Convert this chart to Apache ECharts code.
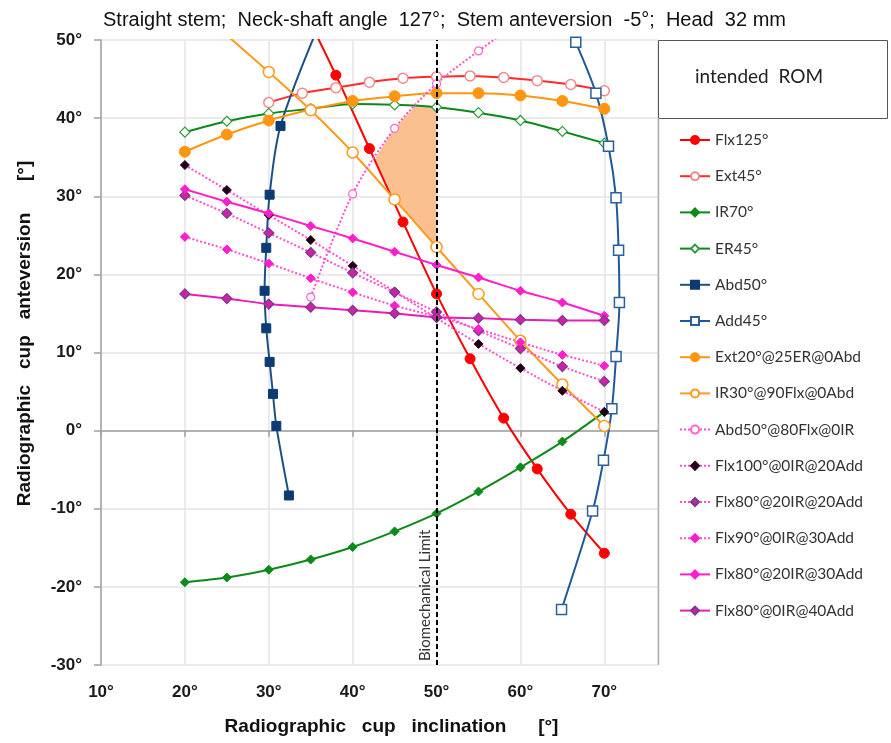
<!DOCTYPE html>
<html>
<head>
<meta charset="utf-8">
<script src="https://cdn.jsdelivr.net/npm/echarts@6/dist/echarts.min.js"></script>
<style>html,body{margin:0;padding:0;background:#fff}#c{width:891px;height:743px}</style>
</head>
<body>
<div id="c"></div>
<script>
// ---- data ----
const chartTitle = 'Straight stem;  Neck-shaft angle  127°;  Stem anteversion  -5°;  Head  32 mm';
const xName = 'Radiographic   cup   inclination      [°]';
const yName = 'Radiographic   cup   anteversion      [°]';
const headerText = 'intended  ROM';
const limitX = 50;
const limitLabel = 'Biomechanical Limit';

const seriesNames = ['Flx125°','Ext45°','IR70°','ER45°','Abd50°','Add45°','Ext20°@25ER@0Abd','IR30°@90Flx@0Abd','Abd50°@80Flx@0IR','Flx100°@0IR@20Add','Flx80°@20IR@20Add','Flx90°@0IR@30Add','Flx80°@20IR@30Add','Flx80°@0IR@40Add'];

const incl5 = [20,25,30,35,40,45,50,55,60,65,70];

const flx125X = [34,38,42,46,50,54,58,62,66,70];
const flx125Y = [54.3,45.5,36.1,26.7,17.5,9.2,1.6,-4.9,-10.7,-15.7];

const ext45X = [30,34,38,42,46,50,54,58,62,66,70];
const ext45Y = [42.0,43.2,43.9,44.6,45.1,45.3,45.4,45.2,44.8,44.3,43.5];

const ir70Y = [-19.4,-18.8,-17.8,-16.5,-14.9,-12.9,-10.6,-7.8,-4.7,-1.4,2.4];
const er45Y = [38.2,39.6,40.6,41.2,41.8,41.7,41.4,40.7,39.7,38.3,36.8];

const abd50X = [36.2,31.4,30.1,29.7,29.5,29.7,30.1,30.5,30.9,32.4];
const abd50Y = [52.5,39.0,30.2,23.4,17.9,13.1,8.8,4.7,0.6,-8.3];

const add45X = [66.6,69.0,70.5,71.4,71.7,71.8,71.4,70.9,69.9,68.6,64.9];
const add45Y = [49.7,43.2,36.4,29.8,23.1,16.4,9.5,2.8,-3.8,-10.3,-22.9];

const ext20Y = [35.7,37.9,39.7,41.1,42.2,42.8,43.2,43.2,42.9,42.2,41.2];

const ir30X = [25,30,35,40,45,50,55,60,65,70];
const ir30Y = [50.6,45.9,41.0,35.6,29.6,23.5,17.5,11.5,5.9,0.6];

const abd50f80X = [35,40,45,50,55,60];
const abd50f80Y = [17.1,30.3,38.7,44.4,48.6,52.4];

const flx100Y   = [34.0,30.8,27.6,24.4,21.1,17.8,14.4,11.1,8.0,5.1,2.4];
const flx80a20Y = [30.1,27.8,25.3,22.8,20.2,17.7,15.2,12.8,10.5,8.2,6.3];
const flx90a30Y = [24.8,23.2,21.4,19.5,17.7,16.0,14.6,13.0,11.3,9.7,8.3];
const flx80b30Y = [30.9,29.3,27.8,26.2,24.6,22.9,21.2,19.6,17.9,16.4,14.7];
const flx80c40Y = [17.5,16.9,16.2,15.8,15.4,15.0,14.5,14.4,14.2,14.1,14.1];

const shadeX = [42.6,44.5,45,50,50,47.5,45];
const shadeY = [34.7,30.2,29.6,23.5,41.4,41.6,38.7];

// ---- build ----
const zip = (xs, ys) => xs.map((x, i) => [x, ys[i]]);
const FONT = 'Liberation Sans, Arial, sans-serif';
const LFONT = 'Lato, Noto Sans, sans-serif';

function mk(name, xs, ys, o) {
  return {
    name: name, type: 'line', data: zip(xs, ys), smooth: 0.3,
    symbol: o.symbol, symbolSize: o.size,
    lineStyle: { color: o.line, width: 2, type: o.dash || 'solid' },
    itemStyle: { color: o.fill, borderColor: o.border || o.fill, borderWidth: o.bw || 1 },
    z: o.z || 3
  };
}

const series = [
  {
    type: 'custom', silent: true, z: 1,
    data: zip(shadeX, shadeY),
    renderItem: function (params, api) {
      if (params.dataIndex !== 0) return null;
      const pts = shadeX.map((x, i) => api.coord([x, shadeY[i]]));
      return { type: 'polygon', shape: { points: pts }, style: { fill: '#fac090' } };
    }
  },
  mk(seriesNames[0], flx125X, flx125Y, { symbol: 'circle', size: 10, line: '#ff0000', fill: '#ff0000' }),
  mk(seriesNames[1], ext45X, ext45Y, { symbol: 'circle', size: 10, line: '#ff2a2a', fill: '#ffffff', border: '#f08a8a', bw: 1.5 }),
  mk(seriesNames[2], incl5, ir70Y, { symbol: 'diamond', size: 9, line: '#0b8a1a', fill: '#0b8a1a' }),
  mk(seriesNames[3], incl5, er45Y, { symbol: 'diamond', size: 10, line: '#0b8a1a', fill: '#ffffff', border: '#2e9a3e', bw: 1.2 }),
  mk(seriesNames[4], abd50X, abd50Y, { symbol: 'rect', size: 9, line: '#1d4f86', fill: '#0c3b74' }),
  mk(seriesNames[5], add45X, add45Y, { symbol: 'rect', size: 10, line: '#1f5a96', fill: '#ffffff', border: '#2b5f9c', bw: 1.5 }),
  mk(seriesNames[6], incl5, ext20Y, { symbol: 'circle', size: 11, line: '#ff9612', fill: '#ff9612' }),
  mk(seriesNames[7], ir30X, ir30Y, { symbol: 'circle', size: 11, line: '#ff9a1f', fill: '#ffffff', border: '#ff9a1f', bw: 1.5 }),
  mk(seriesNames[8], abd50f80X, abd50f80Y, { symbol: 'circle', size: 8, line: '#ff4fcf', fill: '#ffffff', border: '#ff66cc', bw: 1.2, dash: 'dotted' }),
  mk(seriesNames[9], incl5, flx100Y, { symbol: 'diamond', size: 9, line: '#ff4fcf', fill: '#1a0012', border: '#330022', dash: 'dotted' }),
  mk(seriesNames[10], incl5, flx80a20Y, { symbol: 'diamond', size: 10, line: '#ff4fcf', fill: '#cc22aa', border: '#7a3a8a', bw: 1.2, dash: 'dotted' }),
  mk(seriesNames[11], incl5, flx90a30Y, { symbol: 'diamond', size: 9, line: '#ff4fcf', fill: '#ff1ecb', dash: 'dotted' }),
  mk(seriesNames[12], incl5, flx80b30Y, { symbol: 'diamond', size: 9, line: '#ff1ecb', fill: '#ff1ecb' }),
  mk(seriesNames[13], incl5, flx80c40Y, { symbol: 'diamond', size: 10, line: '#e81cb8', fill: '#cc22aa', border: '#7a3a8a', bw: 1.2 }),
  {
    type: 'line', data: [], z: 5, silent: true,
    markLine: {
      silent: true, symbol: 'none', animation: false,
      lineStyle: { color: '#000', width: 2, type: [5, 3] },
      label: { show: true, formatter: limitLabel, position: 'insideStartTop', color: '#333', fontSize: 15, fontFamily: LFONT, distance: 4 },
      data: [{ xAxis: limitX }]
    }
  }
];

const axisLineColor = '#a0a0a0';
const chart = echarts.init(document.getElementById('c'), null, { renderer: 'canvas' });
chart.setOption({
  animation: false,
  backgroundColor: '#fff',
  title: { text: chartTitle, left: 98, top: 5, textStyle: { fontSize: 20, fontWeight: 'normal', color: '#111', fontFamily: FONT } },
  grid: { left: 101, right: 233, top: 40, bottom: 78 },
  xAxis: {
    type: 'value', min: 10, max: 76.4, interval: 10,
    name: xName, nameLocation: 'middle', nameGap: 52,
    nameTextStyle: { fontSize: 19, fontWeight: 'bold', color: '#111', fontFamily: FONT, padding: [0, 0, 0, 24] },
    axisLine: { lineStyle: { color: axisLineColor, width: 1.5 } },
    axisTick: { show: true, length: 6, lineStyle: { color: axisLineColor, width: 1.5 } },
    axisLabel: { formatter: '{value}°', fontSize: 17, fontWeight: 'bold', color: '#1a1a1a', fontFamily: FONT, margin: 19, showMaxLabel: false },
    splitLine: { show: true, lineStyle: { color: '#e4e4e4', width: 1.5 } }
  },
  yAxis: {
    type: 'value', min: -30, max: 50, interval: 10,
    name: yName, nameLocation: 'middle', nameGap: 67,
    nameTextStyle: { fontSize: 19, fontWeight: 'bold', color: '#111', fontFamily: FONT, padding: [0, 0, 0, 38] },
    axisLine: { show: true, lineStyle: { color: axisLineColor, width: 1.5 } },
    axisTick: { show: true, length: 7, lineStyle: { color: axisLineColor, width: 1.5 } },
    axisLabel: { formatter: '{value}°', fontSize: 17, fontWeight: 'bold', color: '#1a1a1a', fontFamily: FONT, margin: 19 },
    splitLine: { show: true, lineStyle: { color: '#e4e4e4', width: 1.5 } }
  },
  legend: {
    data: seriesNames, orient: 'vertical', left: 674, top: 127,
    itemWidth: 30, itemHeight: 10, itemGap: 20.2,
    textStyle: { fontSize: 15.5, lineHeight: 16, color: '#333', fontFamily: LFONT },
    selectedMode: false
  },
  graphic: [
    { type: 'rect', silent: true, z: 100, shape: { x: 658.5, y: 40.5, width: 229, height: 78 }, style: { fill: '#fff', stroke: '#555', lineWidth: 1 } },
    { type: 'text', silent: true, z: 101, left: 695, top: 67, style: { text: headerText, fill: '#222', font: '19px ' + LFONT } },
    { type: 'line', silent: true, z: 100, shape: { x1: 658.5, y1: 118, x2: 658.5, y2: 665 }, style: { stroke: '#b0b0b0', lineWidth: 1.5 } }
  ],
  series: series
});
</script>
</body>
</html>
